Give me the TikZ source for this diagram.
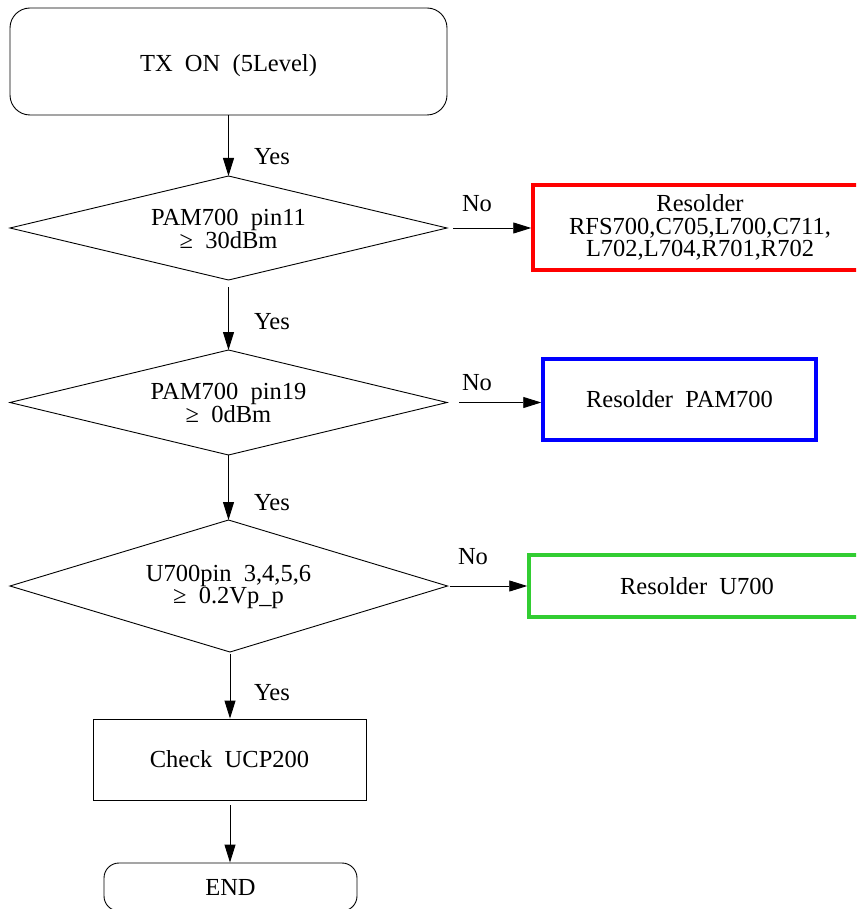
\documentclass[tikz,border=0pt]{standalone}
\usepackage{fontspec}
\setmainfont{Liberation Serif}
\usetikzlibrary{arrows.meta}
\definecolor{redbox}{RGB}{255,0,0}
\definecolor{bluebox}{RGB}{0,0,255}
\definecolor{greenbox}{RGB}{50,205,50}
\tikzset{
  txt/.style={font=\fontsize{24.5}{22.5}\selectfont, align=center, inner sep=0pt},
  term/.style={txt, draw, line width=0.9pt, rounded corners=20pt},
  plainbox/.style={txt, draw, line width=0.9pt},
  thin line/.style={draw, line width=0.9pt},
  colbox/.style={txt, draw=#1, line width=3.5pt},
  arr/.style={draw, line width=0.9pt, -{Triangle[length=18pt,width=11pt]}},
  lbl/.style={txt}
}
\begin{document}
\begin{tikzpicture}[x=1pt,y=-1pt]
\useasboundingbox (0,0) rectangle (856,909);
\clip (0,0) rectangle (856,909);

\node[term, minimum width=437pt, minimum height=107pt, text height=21pt, text depth=0pt] (start) at (228.5,61.5) {TX\ \ ON\ \ (5Level)};

% decision 1
\coordinate (d1n) at (228.5,176);
\coordinate (d1s) at (228.5,280);
\coordinate (d1w) at (10,228);
\coordinate (d1e) at (447,228);
\draw[thin line] (d1w) -- (d1n) -- (d1e) -- (d1s) -- cycle;
\node[txt] (d1) at (228.5,229) {PAM700\ \ pin11\\≥\ \ 30dBm};

% decision 2
\coordinate (d2n) at (228.5,350);
\coordinate (d2s) at (228.5,455);
\coordinate (d2w) at (10,402.5);
\coordinate (d2e) at (447,402.5);
\draw[thin line] (d2w) -- (d2n) -- (d2e) -- (d2s) -- cycle;
\node[txt] (d2) at (228.5,403) {PAM700\ \ pin19\\≥\ \ 0dBm};

% decision 3
\coordinate (d3n) at (228.5,520);
\coordinate (d3s) at (230,652);
\coordinate (d3w) at (10,586);
\coordinate (d3e) at (447.5,586);
\draw[thin line] (d3w) -- (d3n) -- (d3e) -- (d3s) -- cycle;
\node[txt] (d3) at (228.5,587) {U700pin\ \ 3,4,5,6\\≥\ \ 0.2Vp\_p};

\node[colbox=redbox, minimum width=334pt, minimum height=85pt] (r1) at (700,227.5) {Resolder\\RFS700,C705,L700,C711,\\L702,L704,R701,R702};
\node[colbox=bluebox, minimum width=273pt, minimum height=81pt] (r2) at (679.5,399.5) {Resolder\ \ PAM700};
\node[colbox=greenbox, minimum width=336pt, minimum height=62pt] (r3) at (697,586) {Resolder\ \ U700};

\node[plainbox, minimum width=273pt, minimum height=81pt] (chk) at (229.5,759.5) {Check\ \ UCP200};
\node[term, rounded corners=15pt, minimum width=253pt, minimum height=48pt] (end) at (230.5,887) {END};

\draw[arr] (start.south) -- (d1n);
\draw[arr, shorten <=7pt] (d1s) -- (d2n);
\draw[arr] (d2s) -- (d3n);
\draw[arr, shorten <=2pt] (d3s) -- (d3s |- chk.north);
\draw[arr, shorten <=5pt] (d3s |- chk.south) -- (d3s |- end.north);

\draw[arr, shorten <=6pt] (d1e) -- (r1.west |- d1e);
\draw[arr, shorten <=12pt] (d2e) -- (r2.west |- d2e);
\draw[arr, shorten <=2pt] (d3e) -- (r3.west);

\node[lbl] (y1) at (272,157) {Yes};
\node[lbl] (y2) at (272,322) {Yes};
\node[lbl] (y3) at (272,503) {Yes};
\node[lbl] (y4) at (272,693) {Yes};
\node[lbl] (n1) at (477,204) {No};
\node[lbl] (n2) at (477,383) {No};
\node[lbl] (n3) at (473,557) {No};
\end{tikzpicture}
\end{document}
